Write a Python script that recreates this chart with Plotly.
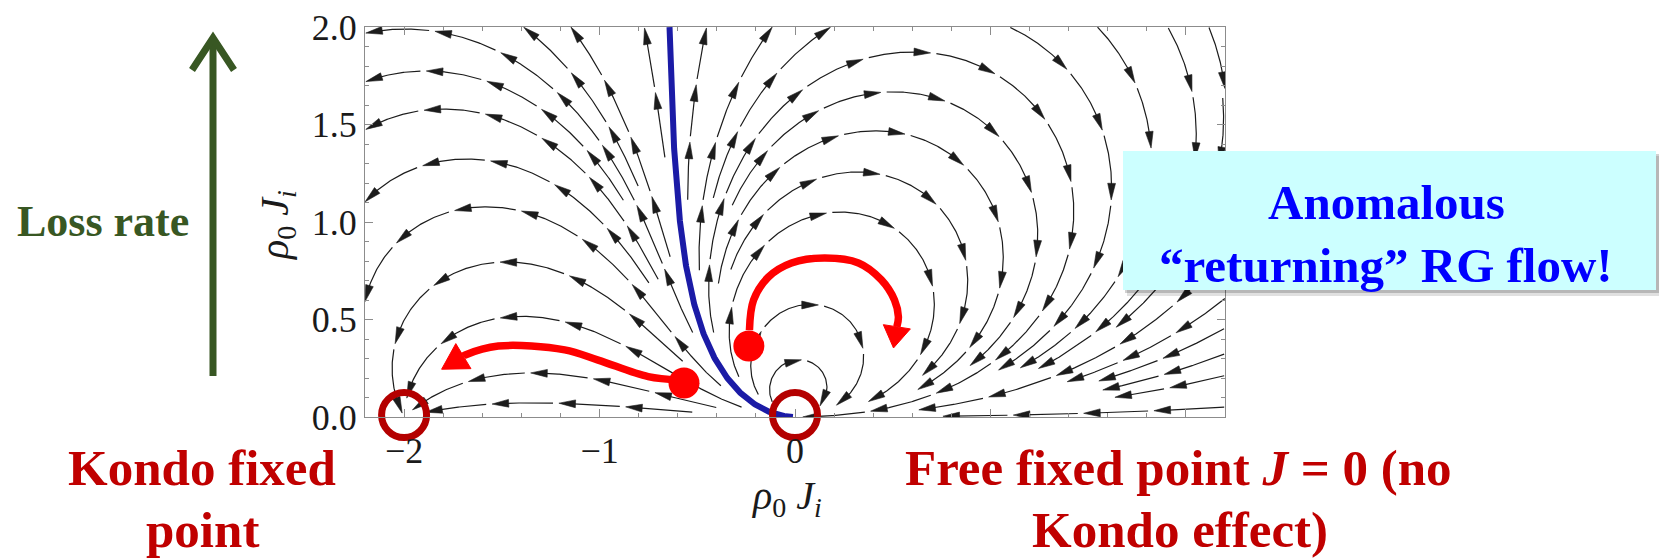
import math
import numpy as np
import plotly.graph_objects as go

# ---------------------------------------------------------------
# Frame geometry (figure pixels) and data ranges
# ---------------------------------------------------------------
FIG_W, FIG_H = 1659, 560
PLOT_L, PLOT_R, PLOT_T, PLOT_B = 365, 1225, 27, 417
X_MIN, X_MAX = -2.2, 2.2
Y_MIN, Y_MAX = 0.0, 2.0

x_tickvals = [-2, -1, 0, 1, 2]
x_ticktext = ["\u22122", "\u22121", "0", "", ""]
y_tickvals = [0.0, 0.5, 1.0, 1.5, 2.0]
y_ticktext = ["0.0", "0.5", "1.0", "1.5", "2.0"]

# fixed points of the flow: Kondo (-2) and free (0)
fixed_x = [-2.0, 0.0]
fixed_y = [0.01, 0.01]

# ---------------------------------------------------------------
# Streamline seed points (rho0*J_r, rho0*J_i)
# ---------------------------------------------------------------
# returning loops around the free fixed point (near their tops)
loop_seed_x = [0.611, 0.529, 0.442, 0.340, 0.238, 0.033, 0.000]
loop_seed_y = [1.872, 1.667, 1.467, 1.256, 1.051, 0.574, 0.292]
# arcs that end at the Kondo fixed point
kondo_seed_x = [-2.19, -1.86, -1.77, -1.69, -1.54, -1.47, -1.47, -1.35, -1.40]
kondo_seed_y = [1.970, 1.774, 1.579, 1.323, 1.077, 0.795, 0.513, 0.226, 0.072]
# crossings of the upper frame edge
top_seed_x = [-1.383, -1.143, -0.770, -0.453, -0.120, 0.176, 1.107, 1.552, 1.910, 2.170]
top_seed_y = [1.995, 1.995, 1.995, 1.995, 1.995, 1.995, 1.995, 1.995, 1.995, 1.995]
# crossings of the right frame edge
edge_seed_x = [2.19, 2.19, 2.19, 2.19, 2.19, 2.19, 2.19, 2.19, 2.19, 2.19]
edge_seed_y = [1.75, 1.45, 1.15, 0.85, 0.60, 0.45, 0.32, 0.21, 0.12, 0.05]

# separatrix (blue) crosses the top of the frame here
separatrix_x, separatrix_y = -0.642, 1.999

# hand-sketched red flows (last point is the arrow tip)
red_left_x = [-0.597, -0.751, -1.007, -1.178, -1.518, -1.687, -1.808]
red_left_y = [0.190, 0.207, 0.292, 0.344, 0.364, 0.318, 0.245]
red_loop_x = [-0.233, -0.212, -0.136, -0.018, 0.151, 0.325, 0.442, 0.509, 0.529, 0.504]
red_loop_y = [0.446, 0.600, 0.718, 0.790, 0.815, 0.790, 0.703, 0.600, 0.513, 0.354]
dot_x = [-0.568, -0.236]
dot_y = [0.174, 0.364]

# colours
C_LINE = "#1c1c1c"
C_FRAME = "#8c8c8c"
C_BLUE = "#1b1ba6"
C_RED = "#ff0000"
C_RING = "#b40000"
C_TEXT_RED = "#c00000"
C_GREEN = "#385723"
C_CYAN = "#ccffff"
FONT = "Liberation Serif"


# ---------------------------------------------------------------
# Poor-man's scaling with the third-order term:
#   d g / d l = -(g^2 + g^3 / 2),   g = rho0 (J_r + i J_i)
# ---------------------------------------------------------------
def unit_dir(x, y):
    z = complex(x, y)
    f = -(z * z + 0.5 * z * z * z)
    n = abs(f)
    if n == 0.0:
        return 0.0, 0.0
    return f.real / n, f.imag / n


def rk4(x, y, h):
    a = unit_dir(x, y)
    b = unit_dir(x + 0.5 * h * a[0], y + 0.5 * h * a[1])
    c = unit_dir(x + 0.5 * h * b[0], y + 0.5 * h * b[1])
    d = unit_dir(x + h * c[0], y + h * c[1])
    return (x + h * (a[0] + 2 * b[0] + 2 * c[0] + d[0]) / 6.0,
            y + h * (a[1] + 2 * b[1] + 2 * c[1] + d[1]) / 6.0)


H_STEP = 0.006
MAX_STEPS = 2500
D_TEST = 0.05
D_SEED = 0.09
CELL = 0.05
MIN_LEN = 0.12

grid = {}


def cell_of(x, y):
    return (int(math.floor(x / CELL)), int(math.floor(y / CELL)))


def crowded(x, y, lid, radius):
    ci, cj = cell_of(x, y)
    r2 = radius * radius
    reach = int(math.ceil(radius / CELL))
    for di in range(-reach, reach + 1):
        for dj in range(-reach, reach + 1):
            for qx, qy, qid in grid.get((ci + di, cj + dj), ()):
                if qid != lid and (qx - x) ** 2 + (qy - y) ** 2 < r2:
                    return True
    return False


def register(pts, lid):
    last = len(pts) - 1
    for k, (x, y) in enumerate(pts):
        if k % 2 == 0 or k == last:
            grid.setdefault(cell_of(x, y), []).append((x, y, lid))


def trace_half(x, y, sign, lid, check=True, r_free=0.03):
    pts = []
    h = sign * H_STEP
    for _ in range(MAX_STEPS):
        nx, ny = rk4(x, y, h)
        if nx < X_MIN or nx > X_MAX or ny < Y_MIN or ny > Y_MAX:
            break
        if abs(complex(nx, ny)) < r_free or abs(complex(nx + 2.0, ny)) < 0.02:
            break
        if check and crowded(nx, ny, lid, D_TEST):
            break
        pts.append((nx, ny))
        x, y = nx, ny
    return pts


def polyline_length(pts):
    p = np.asarray(pts)
    return float(np.hypot(np.diff(p[:, 0]), np.diff(p[:, 1])).sum())


# separatrix: traced back from the top edge to the free fixed point
blue_pts = [(separatrix_x, separatrix_y)] + trace_half(
    separatrix_x, separatrix_y, -1, lid=-1, check=False, r_free=0.008)
register(blue_pts, -1)

seeds = (list(zip(loop_seed_x, loop_seed_y)) + list(zip(kondo_seed_x, kondo_seed_y))
         + list(zip(top_seed_x, top_seed_y)) + list(zip(edge_seed_x, edge_seed_y)))

streamlines = []
for lid, (sx, sy) in enumerate(seeds):
    if crowded(sx, sy, lid, D_SEED):
        continue
    back = trace_half(sx, sy, -1, lid)
    fwd = trace_half(sx, sy, +1, lid)
    pts = back[::-1] + [(sx, sy)] + fwd
    if len(pts) < 3 or polyline_length(pts) < MIN_LEN:
        continue
    register(pts, lid)
    streamlines.append(pts)

# ---------------------------------------------------------------
# Split each streamline into arrowed segments
# ---------------------------------------------------------------
SEG_LEN = 0.34
HEAD_LEN = 0.085
HEAD_W = 0.020
GAP = 0.03


def arrowed(pts):
    p = np.asarray(pts)
    s = np.concatenate([[0.0], np.cumsum(np.hypot(np.diff(p[:, 0]), np.diff(p[:, 1])))])
    total = s[-1]
    n = max(1, int(round(total / SEG_LEN)))
    tips = total * np.arange(1, n + 1) / n
    lx, ly, hx, hy = [], [], [], []
    start = 0.0
    for t in tips:
        end = max(start, t - 0.6 * HEAD_LEN)
        m = (s > start) & (s < end)
        lx += [float(np.interp(start, s, p[:, 0]))] + p[m, 0].tolist() + [float(np.interp(end, s, p[:, 0])), None]
        ly += [float(np.interp(start, s, p[:, 1]))] + p[m, 1].tolist() + [float(np.interp(end, s, p[:, 1])), None]
        tx, ty = float(np.interp(t, s, p[:, 0])), float(np.interp(t, s, p[:, 1]))
        bx0 = float(np.interp(max(t - HEAD_LEN, 0.0), s, p[:, 0]))
        by0 = float(np.interp(max(t - HEAD_LEN, 0.0), s, p[:, 1]))
        dx, dy = tx - bx0, ty - by0
        dn = math.hypot(dx, dy) or 1.0
        dx, dy = dx / dn, dy / dn
        bx, by = tx - HEAD_LEN * dx, ty - HEAD_LEN * dy
        hx += [tx, bx - HEAD_W * dy, bx + HEAD_W * dy, tx, None]
        hy += [ty, by + HEAD_W * dx, by - HEAD_W * dx, ty, None]
        start = t + GAP
    return lx, ly, hx, hy


line_x, line_y, head_x, head_y = [], [], [], []
for pts in streamlines:
    a, b, c, d = arrowed(pts)
    line_x += a
    line_y += b
    head_x += c
    head_y += d


def red_path(xs, ys, head_len, head_w):
    tx, ty = xs[-1], ys[-1]
    dx, dy = tx - xs[-2], ty - ys[-2]
    dn = math.hypot(dx, dy)
    dx, dy = dx / dn, dy / dn
    bx, by = tx - head_len * dx, ty - head_len * dy
    body_x = list(xs[:-1]) + [bx]
    body_y = list(ys[:-1]) + [by]
    hx = [tx, bx - head_w * dy, bx + head_w * dy, tx]
    hy = [ty, by + head_w * dx, by - head_w * dx, ty]
    return body_x, body_y, hx, hy


r1x, r1y, r1hx, r1hy = red_path(red_left_x, red_left_y, 0.13, 0.075)
r2x, r2y, r2hx, r2hy = red_path(red_loop_x, red_loop_y, 0.11, 0.07)

fig = go.Figure()
fig.add_trace(go.Scatter(x=line_x, y=line_y, mode="lines",
                         line=dict(color=C_LINE, width=1.2), hoverinfo="skip"))
fig.add_trace(go.Scatter(x=head_x, y=head_y, mode="lines", fill="toself",
                         fillcolor=C_LINE, line=dict(color=C_LINE, width=0.6), hoverinfo="skip"))
fig.add_trace(go.Scatter(x=[q[0] for q in blue_pts], y=[q[1] for q in blue_pts], mode="lines",
                         line=dict(color=C_BLUE, width=6), hoverinfo="skip"))
for bx_, by_, hx_, hy_ in ((r1x, r1y, r1hx, r1hy), (r2x, r2y, r2hx, r2hy)):
    fig.add_trace(go.Scatter(x=bx_, y=by_, mode="lines", line=dict(color=C_RED, width=7.5, shape="spline"),
                             hoverinfo="skip"))
    fig.add_trace(go.Scatter(x=hx_, y=hy_, mode="lines", fill="toself", fillcolor=C_RED,
                             line=dict(color=C_RED, width=1), hoverinfo="skip"))
fig.add_trace(go.Scatter(x=dot_x, y=dot_y, mode="markers",
                         marker=dict(color=C_RED, size=31), hoverinfo="skip"))
fig.add_trace(go.Scatter(x=fixed_x, y=fixed_y, mode="markers", cliponaxis=False,
                         marker=dict(symbol="circle-open", size=45, color=C_RING,
                                     line=dict(color=C_RING, width=7)), hoverinfo="skip"))


def px(v):
    return (v - PLOT_L) / (PLOT_R - PLOT_L)


def py(v):
    return (PLOT_B - v) / (PLOT_B - PLOT_T)


axis_common = dict(showgrid=False, zeroline=False, showline=True, linecolor=C_FRAME, linewidth=1.3,
                   mirror="ticks", ticks="inside", ticklen=8, tickwidth=1, tickcolor=C_FRAME,
                   tickfont=dict(family=FONT, size=36, color="#1a1a1a"), automargin=False)
fig.update_xaxes(range=[X_MIN, X_MAX], tickmode="array", tickvals=x_tickvals, ticktext=x_ticktext,
                 minor=dict(tickmode="linear", tick0=0, dtick=0.2, ticks="inside", ticklen=4,
                            tickcolor=C_FRAME, tickwidth=1, showgrid=False),
                 ticklabelstandoff=2, **axis_common)
fig.update_yaxes(range=[Y_MIN, Y_MAX], tickmode="array", tickvals=y_tickvals, ticktext=y_ticktext,
                 minor=dict(tickmode="linear", tick0=0, dtick=0.1, ticks="inside", ticklen=4,
                            tickcolor=C_FRAME, tickwidth=1, showgrid=False),
                 ticklabelstandoff=0, **axis_common)

axis_label = "<i>\u03c1</i><sub>0</sub> <i>J<sub>i</sub></i>"
red_font = dict(family=FONT, size=51, color=C_TEXT_RED)
blue_font = dict(family=FONT, size=49, color="#0000ff")
annotations = [
    dict(text="<b>Loss rate</b>", x=px(103), y=py(221), font=dict(family=FONT, size=44, color=C_GREEN)),
    dict(text="<b>Kondo fixed</b>", x=px(202), y=py(468), font=red_font),
    dict(text="<b>point</b>", x=px(202), y=py(530), font=red_font),
    dict(text="<b>Free fixed point <i>J</i> = 0 (no</b>", x=px(1178), y=py(468), font=red_font),
    dict(text="<b>Kondo effect)</b>", x=px(1180), y=py(530), font=red_font),
    dict(text="<b>Anomalous</b>", x=px(1386), y=py(203), font=blue_font),
    dict(text="<b>\u201creturning\u201d RG flow!</b>", x=px(1386), y=py(265), font=blue_font),
    dict(text=axis_label, x=px(786), y=py(498), font=dict(family=FONT, size=40, color="#1a1a1a")),
    dict(text=axis_label, x=px(277), y=py(226), textangle=-90,
         font=dict(family=FONT, size=40, color="#1a1a1a")),
]
for a in annotations:
    a.update(xref="paper", yref="paper", showarrow=False, xanchor="center", yanchor="middle")

shapes = [
    dict(type="rect", xref="paper", yref="paper", x0=px(1127), x1=px(1661), y0=py(156), y1=py(296),
         fillcolor="rgba(0,0,0,0.12)", line_width=0, layer="above"),
    dict(type="rect", xref="paper", yref="paper", x0=px(1125), x1=px(1659), y0=py(154), y1=py(293),
         fillcolor="rgba(0,0,0,0.18)", line_width=0, layer="above"),
    dict(type="rect", xref="paper", yref="paper", x0=px(1123), x1=px(1656), y0=py(151), y1=py(290),
         fillcolor=C_CYAN, line_width=0, layer="above"),
    dict(type="line", xref="paper", yref="paper", x0=px(213), x1=px(213), y0=py(376), y1=py(40),
         line=dict(color=C_GREEN, width=7), layer="above"),
    dict(type="path", xref="paper", yref="paper",
         path=f"M {px(192)},{py(70)} L {px(213)},{py(38)} L {px(234)},{py(70)}",
         line=dict(color=C_GREEN, width=7), layer="above"),
]

fig.update_layout(width=FIG_W, height=FIG_H,
                  margin=dict(l=PLOT_L, r=FIG_W - PLOT_R, t=PLOT_T, b=FIG_H - PLOT_B),
                  plot_bgcolor="white", paper_bgcolor="white", showlegend=False,
                  annotations=annotations, shapes=shapes)

fig.write_html("out.html")
